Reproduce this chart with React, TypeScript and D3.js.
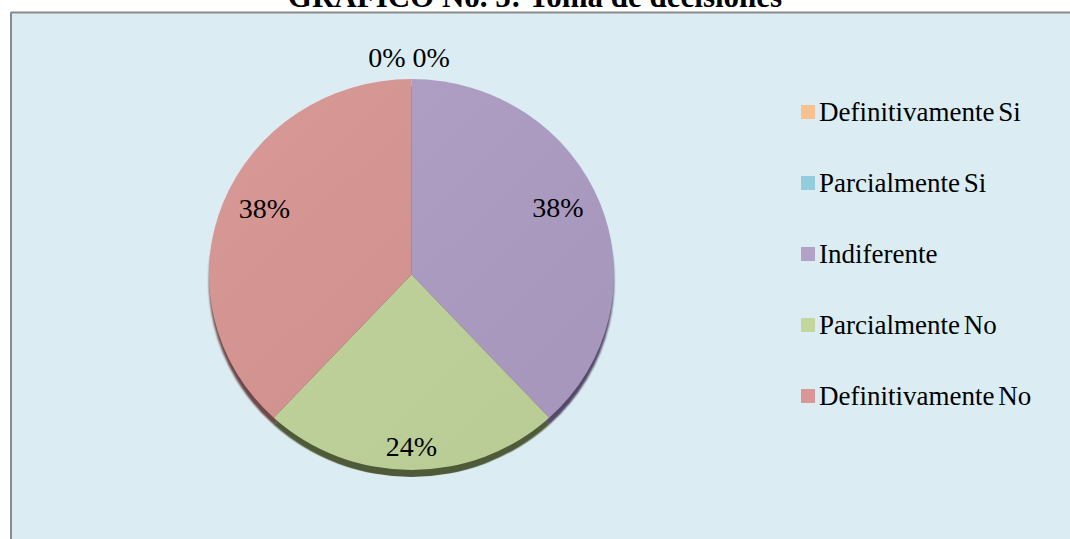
import React from "react";
import * as d3 from "d3";

const categories = [
  "Definitivamente Si",
  "Parcialmente Si",
  "Indiferente",
  "Parcialmente No",
  "Definitivamente No",
];
const values = [0, 0, 8, 5, 8];
const legendColors = ["#FAC090", "#93CDDD", "#B3A2C7", "#C3D69B", "#D99694"];
const sliceColors = ["#F7BC8C", "#8FC9D9", "#AD9CC3", "#C0D49A", "#D69491"];
const sideColors = ["#7A5A40", "#456770", "#544868", "#505A38", "#6E4A48"];
const title = "GRÁFICO No. 5: Toma de decisiones";

const FONT = "Liberation Serif, Times New Roman, serif";

export default function App() {
  const W = 1070;
  const H = 539;
  const cx = 411.5;
  const cy = 274.5;
  const r = 202.5;
  const sy = 0.965;
  const depth = 7;

  const total = d3.sum(values);
  const pie = d3.pie<number>().sort(null).value((d) => d);
  const arcs = pie(values);
  const arc = d3.arc<d3.PieArcDatum<number>>().innerRadius(0).outerRadius(r);
  const labelArc = d3
    .arc<d3.PieArcDatum<number>>()
    .innerRadius((d) => (d.value / total < 0.3 ? r * 0.78 : r * 0.64))
    .outerRadius((d) => (d.value / total < 0.3 ? r * 0.98 : r * 0.96));
  const fmt = (v: number) => `${Math.round((v / total) * 100)}%`;
  // bias label angle slightly toward the vertical axis (as the original layout does)
  const bias = (a: d3.PieArcDatum<number>) => {
    const mid = (a.startAngle + a.endAngle) / 2;
    const shift = mid < Math.PI - 0.01 ? -0.07 : mid > Math.PI + 0.01 ? 0.06 : 0;
    return { ...a, startAngle: a.startAngle + shift, endAngle: a.endAngle + shift };
  };

  const legendY = d3
    .scalePoint<string>()
    .domain(categories)
    .range([121, 405]);

  return (
    <svg
      width={W}
      height={H}
      style={{ position: "absolute", left: 0, top: 0, display: "block" }}
      fontFamily={FONT}
    >
      <defs>
        <linearGradient id="shade" x1="0" y1="0" x2="1" y2="1">
          <stop offset="0" stopColor="#ffffff" stopOpacity={0.06} />
          <stop offset="1" stopColor="#000000" stopOpacity={0.04} />
        </linearGradient>
        <filter id="soft" x="-10%" y="-10%" width="120%" height="120%">
          <feGaussianBlur stdDeviation="0.8" />
        </filter>
      </defs>
      <rect x={0} y={0} width={W} height={H} fill="#ffffff" />
      <rect x={11} y={13} width={W} height={H} fill="#DBEDF3" />
      <line x1={11} y1={12.5} x2={W} y2={12.5} stroke="#8A8A8A" strokeWidth={2} />
      <line x1={11} y1={12} x2={11} y2={H} stroke="#8A8A8A" strokeWidth={2} />
      <text
        x={535}
        y={7}
        textAnchor="middle"
        fontSize={31}
        fontWeight="bold"
        fill="#000"
        fontFamily={FONT}
      >
        {title}
      </text>

      <g transform={`translate(${cx},${cy + depth}) scale(1,${sy})`} filter="url(#soft)">
        {arcs.map((a, i) =>
          a.value > 0 ? (
            <path key={`s${i}`} d={arc(a) || ""} fill={sideColors[i]} />
          ) : null
        )}
      </g>
      <g transform={`translate(${cx},${cy}) scale(1,${sy})`}>
        {arcs.map((a, i) =>
          a.value > 0 ? (
            <path key={`t${i}`} d={arc(a) || ""} fill={sliceColors[i]} />
          ) : null
        )}
        <circle r={r} fill="url(#shade)" />
      </g>

      {arcs.map((a, i) => {
        if (a.value === 0) {
          const zeroIdx = arcs.filter((b, j) => b.value === 0 && j < i).length;
          return (
            <text
              key={`l${i}`}
              x={cx + (zeroIdx === 0 ? -6 : 1)}
              y={cy - r * sy - 12}
              textAnchor={zeroIdx === 0 ? "end" : "start"}
              fontSize={28}
              fill="#000"
              fontFamily={FONT}
            >
              {fmt(a.value)}
            </text>
          );
        }
        const [lx, ly] = labelArc.centroid(bias(a));
        return (
          <text
            key={`l${i}`}
            x={cx + lx}
            y={cy + ly * sy}
            dy="0.33em"
            textAnchor="middle"
            fontSize={28}
            fill="#000"
            fontFamily={FONT}
          >
            {fmt(a.value)}
          </text>
        );
      })}

      {categories.map((c, i) => {
        const y = legendY(c) as number;
        return (
          <g key={c}>
            <rect x={801} y={y - 16} width={14} height={14} fill={legendColors[i]} />
            <text
              x={819}
              y={y}
              fontSize={27}
              fill="#000"
              wordSpacing={-3}
              fontFamily={FONT}
            >
              {c}
            </text>
          </g>
        );
      })}
    </svg>
  );
}
